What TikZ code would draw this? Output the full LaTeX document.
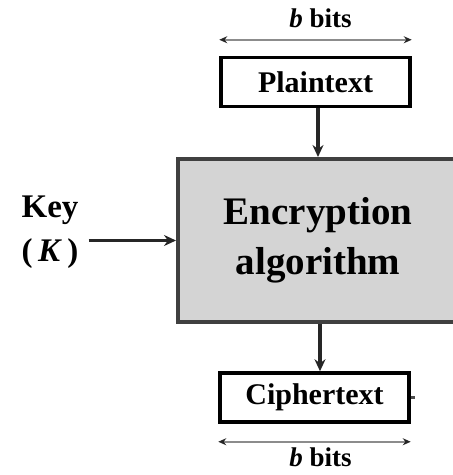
\documentclass[tikz,border=0pt]{standalone}
\usepackage{fontspec}
\setmainfont{Liberation Serif}
\usepackage{tikz}
\usetikzlibrary{arrows.meta,positioning,calc}

\begin{document}
\begin{tikzpicture}[
    x=1pt, y=1pt,
    textbox/.style={draw=black, line width=3.5pt, fill=white, minimum width=189pt, minimum height=49pt, font=\fontsize{30}{34}\selectfont\bfseries},
    algobox/.style={draw=black!75, line width=4pt, fill=black!17, minimum width=280pt, minimum height=163pt, align=center, font=\fontsize{39}{50}\selectfont\bfseries},
    flow/.style={line width=3.5pt, draw=black!85, -{Stealth[length=12pt, width=11pt]}},
    dimline/.style={line width=2pt, draw=black!45, {Stealth[length=8pt, width=7pt, color=black!85]}-{Stealth[length=8pt, width=7pt, color=black!85]}},
    dimlabel/.style={font=\fontsize{27}{30}\selectfont\bfseries}
  ]
    \clip (0,0) rectangle (453,475);
    \node[algobox] (enc) at (318,234.5) {Encryption\\algorithm};
    \node[textbox] (plain) at (315.5,393) {Plaintext};
    \node[textbox] (cipher) at (314.5,77.5) {Ciphertext};
    \node[align=center, inner xsep=10pt, font=\fontsize{33}{44}\selectfont\bfseries] (key) at (50,243) {Key\\(\,\textit{K}\,)};
    % key into the algorithm
    \draw[flow] (key.east |- enc.west) -- (enc.west);
    \draw[flow] (plain.south -| 318,0) -- (enc.north);
    \draw[flow] (enc.south -| 320,0) -- (cipher.north -| 320,0);
    \coordinate (stub) at ($(cipher.east)+(4,0)$);
    \draw[line width=2.5pt, black!70] (cipher.east) -- (stub);
    % block sizes
    \draw[dimline] ([yshift=16pt]plain.north west) -- ([yshift=16pt]plain.north east);
    \node[dimlabel, above=4pt of plain.north, xshift=5pt, yshift=20pt] (topbits) {\textit{b} bits};
    \draw[dimline] ([yshift=-18pt]cipher.south west) -- ([yshift=-18pt]cipher.south east);
    \node[dimlabel, below=20pt of cipher.south, xshift=6pt] (botbits) {\textit{b} bits};
  \end{tikzpicture}
\end{document}
